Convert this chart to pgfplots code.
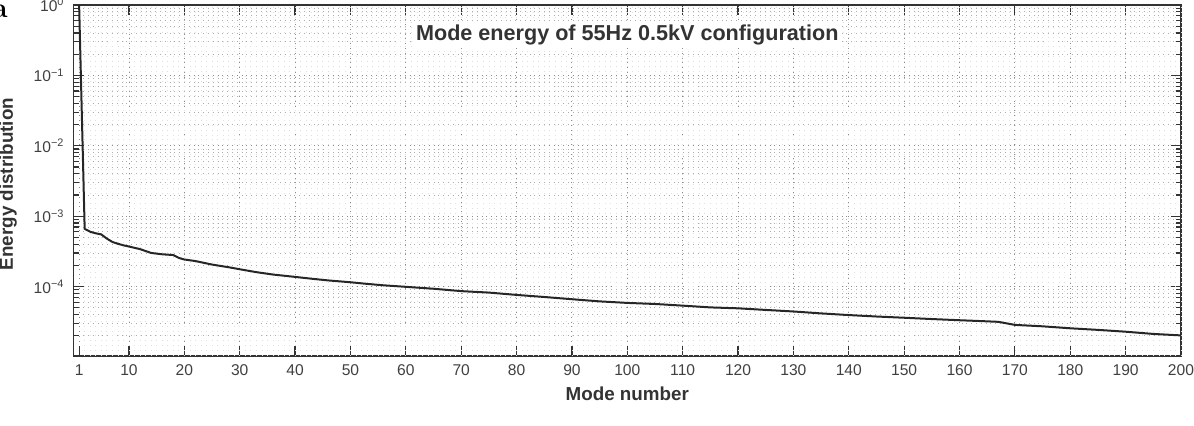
\documentclass[border=0pt]{standalone}
\usepackage{fontspec}
\setsansfont{Liberation Sans}
\usepackage{pgfplots}
\pgfplotsset{compat=1.18}
\begin{document}
\begin{tikzpicture}
\useasboundingbox (-36.8pt,-35pt) rectangle (560.2pt,178pt);
\begin{axis}[
  at={(0,0)}, anchor=south west,
  scale only axis, width=553.7pt, height=175.5pt,
  ymode=log,
  xmin=0, xmax=200, ymin=1.03e-5, ymax=1,
  xtick={1,10,20,...,200},
  ytick={1e-4,1e-3,1e-2,1e-1,1},
  yticklabels={10\textsuperscript{−4},10\textsuperscript{−3},10\textsuperscript{−2},10\textsuperscript{−1},10\textsuperscript{0}},
  minor ytick={2e-5,3e-5,4e-5,5e-5,6e-5,7e-5,8e-5,9e-5,
    2e-4,3e-4,4e-4,5e-4,6e-4,7e-4,8e-4,9e-4,
    2e-3,3e-3,4e-3,5e-3,6e-3,7e-3,8e-3,9e-3,
    2e-2,3e-2,4e-2,5e-2,6e-2,7e-2,8e-2,9e-2,
    2e-1,3e-1,4e-1,5e-1,6e-1,7e-1,8e-1,9e-1},
  extra x ticks={2,...,200},
  extra x tick labels={},
  extra x tick style={major tick length=0pt, grid=major, major grid style={dotted, line width=0.35pt, black!12}},
  grid=both,
  major grid style={dotted, line width=0.45pt, black!45},
  minor grid style={dotted, line width=0.4pt, black!32},
  tick pos=both, tick align=inside,
  major tick length=5pt, minor tick length=2.5pt,
  tick style={black!80, line width=0.6pt},
  axis line style={black!80, line width=0.9pt},
  /pgf/number format/assume math mode=true,
  tick label style={font=\sffamily\fontsize{7.8}{9}\selectfont, text=black!75},
  xticklabel style={yshift=-1pt},
  yticklabel style={xshift=-1pt},
  xlabel={Mode number},
  ylabel={Energy distribution},
  label style={font=\sffamily\bfseries\fontsize{9.4}{11}\selectfont, text=black!80},
  xlabel style={at={(axis description cs:0.5,-0.108)}, anchor=center},
  ylabel style={at={(axis description cs:-0.0592,0.49)}, anchor=center},
]
\addplot[black!85, line width=1pt] coordinates {
(1,0.99) (2,6.6e-4) (3,6.0e-4) (4,5.7e-4) (5,5.5e-4) (6,4.8e-4) (7,4.3e-4)
(8,4.05e-4) (9,3.85e-4) (10,3.7e-4) (12,3.4e-4) (14,3.0e-4) (16,2.87e-4)
(18,2.8e-4) (19,2.55e-4) (20,2.42e-4) (22,2.3e-4) (25,2.05e-4) (28,1.88e-4)
(30,1.76e-4) (33,1.6e-4) (36,1.48e-4) (40,1.37e-4) (43,1.29e-4) (46,1.22e-4)
(50,1.15e-4) (53,1.09e-4) (56,1.04e-4) (60,9.9e-5) (65,9.3e-5) (70,8.6e-5)
(75,8.2e-5) (80,7.6e-5) (85,7.1e-5) (90,6.6e-5) (95,6.15e-5) (100,5.85e-5)
(105,5.65e-5) (110,5.35e-5) (115,5.05e-5) (120,4.9e-5) (125,4.65e-5)
(130,4.42e-5) (135,4.15e-5) (140,3.93e-5) (145,3.75e-5) (150,3.6e-5)
(155,3.45e-5) (160,3.32e-5) (165,3.2e-5) (167,3.15e-5) (170,2.85e-5)
(175,2.72e-5) (180,2.55e-5) (185,2.42e-5) (190,2.28e-5) (195,2.12e-5) (200,2.02e-5)
};
\node[fill=white, inner sep=1.5pt, font=\sffamily\bfseries\fontsize{10.8}{13}\selectfont, text=black!80]
  at (rel axis cs:0.5,0.9145) {Mode energy of 55Hz 0.5kV configuration};
\end{axis}
\node[font=\rmfamily\bfseries\fontsize{14}{16}\selectfont, anchor=center] at (-36.8pt,172.5pt) {a};
\end{tikzpicture}
\end{document}
